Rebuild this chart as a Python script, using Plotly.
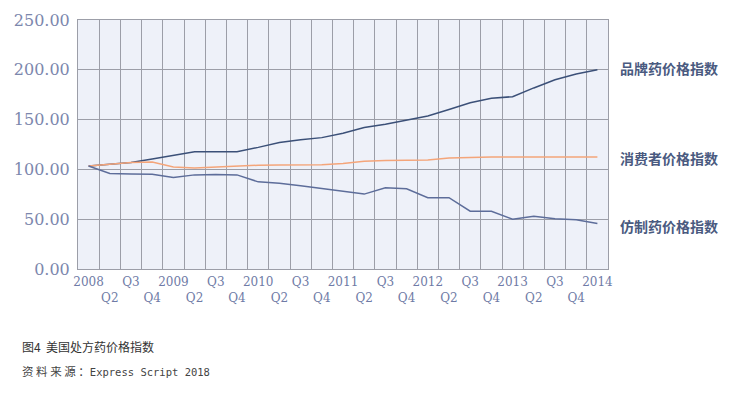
import plotly.graph_objects as go

# ---- data ----
categories = [
    "2008", "2008Q2", "2008Q3", "2008Q4",
    "2009", "2009Q2", "2009Q3", "2009Q4",
    "2010", "2010Q2", "2010Q3", "2010Q4",
    "2011", "2011Q2", "2011Q3", "2011Q4",
    "2012", "2012Q2", "2012Q3", "2012Q4",
    "2013", "2013Q2", "2013Q3", "2013Q4",
    "2014",
]
tick_labels = [
    "2008", "<br>Q2", "Q3", "<br>Q4",
    "2009", "<br>Q2", "Q3", "<br>Q4",
    "2010", "<br>Q2", "Q3", "<br>Q4",
    "2011", "<br>Q2", "Q3", "<br>Q4",
    "2012", "<br>Q2", "Q3", "<br>Q4",
    "2013", "<br>Q2", "Q3", "<br>Q4",
    "2014",
]
branded = [103.4, 105.4, 107.0, 110.5, 114.5, 117.8, 117.8, 117.8, 122.1, 126.9,
           129.7, 131.9, 136.2, 142.0, 145.3, 149.2, 153.6, 160.2, 167.0, 171.5,
           173.0, 181.8, 190.0, 195.8, 200.0]
consumer = [103.4, 105.2, 107.0, 107.5, 102.5, 101.5, 102.5, 103.5, 104.2, 104.4,
            104.4, 104.6, 106.0, 108.3, 109.0, 109.0, 109.5, 111.5, 112.2, 112.4,
            112.5, 112.5, 112.5, 112.5, 112.5]
generic = [103.4, 96.0, 95.5, 95.2, 91.8, 94.5, 95.0, 94.5, 87.5, 86.0,
           83.5, 80.5, 77.5, 75.2, 81.5, 80.5, 71.6, 71.6, 58.0, 58.0,
           50.0, 53.0, 50.5, 49.5, 45.7]
series_names = ["品牌药价格指数", "消费者价格指数", "仿制药价格指数"]
y_ticks = [0, 50, 100, 150, 200, 250]

# ---- figure ----
fig = go.Figure()
fig.add_trace(go.Scatter(x=categories, y=branded, mode="lines", name=series_names[0],
                         line=dict(color="#3b5078", width=1.5)))
fig.add_trace(go.Scatter(x=categories, y=consumer, mode="lines", name=series_names[1],
                         line=dict(color="#f4a57a", width=1.5)))
fig.add_trace(go.Scatter(x=categories, y=generic, mode="lines", name=series_names[2],
                         line=dict(color="#5d6d9a", width=1.5)))

grid_col = "#9c9ea8"
fig.update_layout(
    width=737, height=393,
    margin=dict(l=70, r=137, t=12, b=132, autoexpand=False),
    paper_bgcolor="white",
    plot_bgcolor="#eef1f9",
    showlegend=False,
    xaxis=dict(
        type="category", automargin=False,
        tickmode="array", tickvals=categories, ticktext=tick_labels,
        tickson="boundaries", ticks="",
        showgrid=True, gridcolor=grid_col, gridwidth=1,
        showline=True, linecolor=grid_col, linewidth=1, mirror=True,
        tickfont=dict(family="DejaVu Serif", size=12, color="#6f7ba6"),
        tickangle=0, ticklabelstandoff=2,
        range=[-0.5, 24.5],
    ),
    yaxis=dict(
        automargin=False,
        range=[0, 250], tickvals=y_ticks, tickformat=".2f",
        showgrid=True, gridcolor=grid_col, gridwidth=1,
        showline=True, linecolor=grid_col, linewidth=1, mirror=True,
        zeroline=False, ticks="",
        tickfont=dict(family="DejaVu Serif", size=16, color="#7c87ad"),
        ticklabelstandoff=4,
    ),
)

label_y = [0.807, 0.447, 0.172]
for name, yy in zip(series_names, label_y):
    fig.add_annotation(xref="paper", yref="paper", x=1.0189, y=yy, xanchor="left", yanchor="middle",
                       text=name, showarrow=False,
                       font=dict(family="Noto Sans CJK SC", size=14, color="#4a5a80", weight=600))

fig.add_annotation(xref="paper", yref="paper", x=-0.109, y=-0.312, xanchor="left", yanchor="middle",
                   text="图4  美国处方药价格指数", showarrow=False,
                   font=dict(family="Noto Sans CJK SC", size=12, color="#333333"))
fig.add_annotation(xref="paper", yref="paper", x=-0.109, y=-0.408, xanchor="left", yanchor="middle",
                   text="资 料 来 源 ：<span style=\"font-family:'DejaVu Sans Mono';font-size:10.5px\">Express Script 2018</span>",
                   showarrow=False,
                   font=dict(family="Noto Sans CJK SC", size=11.5, color="#444444"))

fig.write_html("out.html")
